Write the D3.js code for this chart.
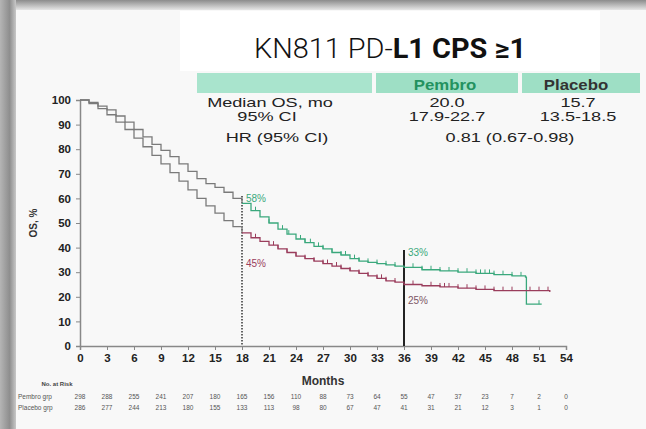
<!DOCTYPE html>
<html>
<head>
<meta charset="utf-8">
<script src="https://cdn.jsdelivr.net/npm/d3@7"></script>
<style>
  body { margin: 0; background: #fff; }
  svg { display: block; }
</style>
</head>
<body>
<svg width="646" height="429"></svg>
<script>
"use strict";

// survival curves (month, OS %)
const pembroCurve = [
    [0, 100], [1, 99], [2, 97.5], [3, 96], [4, 93.5], [5, 91], [6, 88], [7, 85], [8, 82],
    [9, 79.5], [10, 77], [11, 74], [12, 71], [13, 68], [14, 66], [15, 64.5], [16, 62.5],
    [17, 60], [18, 58], [19, 55], [20, 52.5], [21, 50], [22, 47.5], [23, 45.5], [24, 43.5],
    [25, 42], [26, 40.5], [27, 39.5], [28, 38], [29, 37], [30, 35.5], [31, 34.5], [32, 34],
    [33, 33.5], [34, 33], [35, 32.5], [36, 32], [38, 31], [40, 30.5], [42, 30], [44, 29.5],
    [46, 29], [48, 28.5], [49.5, 28], [49.6, 17], [51.3, 17]
];
const placeboCurve = [
    [0, 100], [1, 98.5], [2, 96.5], [3, 94], [4, 91], [5, 88], [6, 84.5], [7, 81], [8, 77.5],
    [9, 74], [10, 70.5], [11, 67], [12, 63.5], [13, 60], [14, 57], [15, 54], [16, 51],
    [17, 48.5], [18, 46], [19, 44], [20, 42.5], [21, 41], [22, 39.5], [23, 38], [24, 36.5],
    [25, 35.5], [26, 34.5], [27, 33.5], [28, 32.5], [29, 31.5], [30, 30.5], [31, 29.5],
    [32, 28.5], [33, 27.5], [34, 26.5], [35, 26], [36, 25], [38, 24.5], [40, 24], [42, 23.5],
    [44, 23], [46, 22.5], [48, 22.5], [52.2, 22]
];
const pembroCensor = [19.5, 21, 22.5, 23.2, 24.5, 25, 25.6, 26.5, 27, 28, 29, 29.5, 30.5, 31,
    32, 33, 34, 35, 37, 38, 39, 40, 41, 42, 43, 44, 44.5, 45, 45.5, 46, 47, 48, 49, 51];
const placeboCensor = [19.5, 21.5, 22, 23, 24, 25, 26, 27, 27.5, 28.5, 29, 30, 31, 32, 33,
    33.5, 34, 35, 37, 39, 40, 40.5, 41, 42, 43, 44, 45, 46, 47, 48, 50, 51, 52];

const xTicks = d3.range(0, 55, 3);
const yTicks = d3.range(0, 101, 10);

const landmarks = [
    {month: 18, pembro: "58%", placebo: "45%"},
    {month: 36, pembro: "33%", placebo: "25%"}
];

const riskLabels = ["Pembro grp", "Placebo grp"];
const pembroAtRisk = [298, 288, 255, 241, 207, 180, 165, 156, 110, 88, 73, 64, 55, 47, 37, 23, 7, 2, 0];
const placeboAtRisk = [286, 277, 244, 213, 180, 155, 133, 113, 98, 80, 67, 47, 41, 31, 21, 12, 3, 1, 0];

const tableHeader = ["", "Pembro", "Placebo"];
const tableRows = [
    ["Median OS, mo", "20.0", "15.7"],
    ["95% CI", "17.9-22.7", "13.5-18.5"]
];
const hrRow = ["HR (95% CI)", "0.81 (0.67-0.98)"];

const GREEN = "#3aa87c";
const MAROON = "#9a3d5c";
const GRAY = "#7a7a7a";
const FONT = "'Liberation Sans', Arial, sans-serif";

const svg = d3.select("svg");
const W = +svg.attr("width"), H = +svg.attr("height");

// slide background + photo frame shading
const defs = svg.append("defs");
const gTop = defs.append("linearGradient").attr("id", "gTop").attr("x1", 0).attr("x2", 0).attr("y1", 0).attr("y2", 1);
gTop.append("stop").attr("offset", "0%").attr("stop-color", "#8c8c8c");
gTop.append("stop").attr("offset", "100%").attr("stop-color", "#e6e6e6");
const gLeft = defs.append("linearGradient").attr("id", "gLeft").attr("x1", 0).attr("x2", 1).attr("y1", 0).attr("y2", 0);
gLeft.append("stop").attr("offset", "0%").attr("stop-color", "#b5b5b5");
gLeft.append("stop").attr("offset", "60%").attr("stop-color", "#8e8e8e");
gLeft.append("stop").attr("offset", "100%").attr("stop-color", "#c8c8c8");

svg.append("rect").attr("width", W).attr("height", H).attr("fill", "#f8f8f8");
svg.append("rect").attr("x", 0).attr("y", 0).attr("width", W).attr("height", 10).attr("fill", "url(#gTop)");
svg.append("rect").attr("x", 0).attr("y", 0).attr("width", 16).attr("height", H).attr("fill", "url(#gLeft)");
svg.append("rect").attr("x", 180).attr("y", 11).attr("width", 420).attr("height", 60).attr("fill", "#ffffff");

// title
const title = svg.append("text")
    .attr("x", 390).attr("y", 58)
    .attr("text-anchor", "middle")
    .attr("font-family", "Roboto, 'Liberation Sans', sans-serif")
    .attr("font-size", 27)
    .attr("fill", "#111")
    .attr("textLength", 272)
    .attr("lengthAdjust", "spacingAndGlyphs");
title.append("tspan").attr("font-weight", 300).text("KN811 PD-");
title.append("tspan").attr("font-weight", 700).text("L1 CPS ≥1");

// table (slide text is stretched wide, hence the x scale)
const colX = [270, 447, 578];
const headerCells = [[197, 372], [376, 518], [522, 640]];
svg.append("g").selectAll("rect")
    .data(headerCells)
    .join("rect")
        .attr("x", d => d[0]).attr("y", 73)
        .attr("width", d => d[1] - d[0]).attr("height", 20)
        .attr("fill", (d, i) => i === 0 ? "#a9e4cd" : "#9edfc5");
svg.append("g").selectAll("text")
    .data(tableHeader)
    .join("text")
        .attr("transform", (d, i) => `translate(${colX[i] - 2} 90) scale(1.2 1)`)
        .attr("text-anchor", "middle")
        .attr("font-family", FONT)
        .attr("font-size", 14).attr("font-weight", "bold")
        .attr("fill", (d, i) => i === 1 ? "#23925f" : "#333")
        .text(d => d);
tableRows.forEach((row, r) => {
    svg.append("g").selectAll("text")
        .data(row)
        .join("text")
            .attr("transform", (d, i) => `translate(${colX[i] - (i === 0 && r === 1 ? 3 : 0)} ${107 + r * 13.5}) scale(1.45 1)`)
            .attr("text-anchor", "middle")
            .attr("font-family", FONT)
            .attr("font-size", 12.5)
            .attr("fill", "#222")
            .text(d => d);
});
svg.append("text")
    .attr("transform", "translate(277 142) scale(1.45 1)")
    .attr("text-anchor", "middle")
    .attr("font-family", FONT)
    .attr("font-size", 12.5).attr("fill", "#222")
    .text(hrRow[0]);
svg.append("text")
    .attr("transform", "translate(510 142) scale(1.45 1)")
    .attr("text-anchor", "middle")
    .attr("font-family", FONT)
    .attr("font-size", 12.5).attr("fill", "#222")
    .text(hrRow[1]);

// scales
const x = d3.scaleLinear().domain([0, 54]).range([80, 566]);
const y = d3.scaleLinear().domain([0, 100]).range([346, 100]);

// axes
const xAxis = svg.append("g")
    .attr("transform", `translate(0, ${y(0)})`)
    .call(d3.axisBottom(x).tickValues(xTicks).tickSize(4).tickPadding(4));
const yAxis = svg.append("g")
    .attr("transform", `translate(${x(0)}, 0)`)
    .call(d3.axisLeft(y).tickValues(yTicks).tickSize(4).tickPadding(5));
[xAxis, yAxis].forEach(a => {
    a.select(".domain").attr("stroke", "#888").attr("stroke-width", 1.5);
    a.selectAll(".tick line").attr("stroke", "#888");
    a.selectAll(".tick text")
        .attr("font-family", FONT)
        .attr("font-weight", "bold").attr("font-size", 11.5).attr("fill", "#222");
});

svg.append("text")
    .attr("transform", `translate(37 ${y(50)}) rotate(-90)`)
    .attr("text-anchor", "middle")
    .attr("font-family", FONT)
    .attr("font-size", 10).attr("font-weight", "bold").attr("fill", "#333")
    .text("OS, %");
svg.append("text")
    .attr("x", x(27)).attr("y", 385).attr("text-anchor", "middle")
    .attr("font-family", FONT)
    .attr("font-size", 12).attr("font-weight", "bold").attr("fill", "#333")
    .text("Months");

// landmark lines
svg.append("line")
    .attr("x1", x(18)).attr("x2", x(18)).attr("y1", y(61)).attr("y2", y(0))
    .attr("stroke", "#333").attr("stroke-width", 1.5).attr("stroke-dasharray", "1.5,1.5");
svg.append("line")
    .attr("x1", x(36)).attr("x2", x(36)).attr("y1", y(39)).attr("y2", y(0))
    .attr("stroke", "#222").attr("stroke-width", 2);

// curves: gray before 18 months, coloured after
const stepLine = d3.line().x(d => x(d[0])).y(d => y(d[1])).curve(d3.curveStepAfter);
function drawArm(curve, colour) {
    const early = curve.filter(d => d[0] <= 18);
    const late = curve.filter(d => d[0] >= 18);
    svg.append("path").datum(early).attr("d", stepLine)
        .attr("fill", "none").attr("stroke", GRAY).attr("stroke-width", 1.3);
    svg.append("path").datum(late).attr("d", stepLine)
        .attr("fill", "none").attr("stroke", colour).attr("stroke-width", 1.3);
}
drawArm(pembroCurve, GREEN);
drawArm(placeboCurve, MAROON);

const bisect = d3.bisector(d => d[0]).right;
function survAt(curve, t) {
    return curve[Math.max(0, bisect(curve, t) - 1)][1];
}
function drawCensor(curve, times, colour) {
    svg.append("g").selectAll("line")
        .data(times)
        .join("line")
            .attr("x1", d => x(d)).attr("x2", d => x(d))
            .attr("y1", d => y(survAt(curve, d))).attr("y2", d => y(survAt(curve, d)) - 4)
            .attr("stroke", colour).attr("stroke-width", 1);
}
drawCensor(pembroCurve, pembroCensor, GREEN);
drawCensor(placeboCurve, placeboCensor, MAROON);

// landmark labels
svg.append("g").selectAll("text")
    .data(landmarks)
    .join("text")
        .attr("x", d => x(d.month) + 4)
        .attr("y", d => d.month === 18 ? y(58.5) : y(36.5))
        .attr("font-family", FONT)
        .attr("font-size", 10).attr("fill", GREEN)
        .text(d => d.pembro);
svg.append("g").selectAll("text")
    .data(landmarks)
    .join("text")
        .attr("x", d => x(d.month) + 4)
        .attr("y", d => d.month === 18 ? y(32) : y(17))
        .attr("font-family", FONT)
        .attr("font-size", 10).attr("fill", (d, i) => i === 0 ? MAROON : "#7d5665")
        .text(d => d.placebo);

// number at risk
svg.append("text")
    .attr("x", 57).attr("y", 386).attr("text-anchor", "middle")
    .attr("font-family", FONT)
    .attr("font-size", 6).attr("font-weight", "bold").attr("fill", "#444")
    .text("No. at Risk");
[pembroAtRisk, placeboAtRisk].forEach((row, r) => {
    const yy = 399 + r * 11;
    svg.append("text")
        .attr("x", 18).attr("y", yy)
        .attr("font-family", FONT)
        .attr("font-size", 6.5).attr("fill", "#555")
        .text(riskLabels[r]);
    svg.append("g").selectAll("text")
        .data(row)
        .join("text")
            .attr("x", (d, i) => x(xTicks[i]))
            .attr("y", yy).attr("text-anchor", "middle")
            .attr("font-family", FONT)
            .attr("font-size", 6.5).attr("fill", "#555")
            .text(d => d);
});
</script>
</body>
</html>
